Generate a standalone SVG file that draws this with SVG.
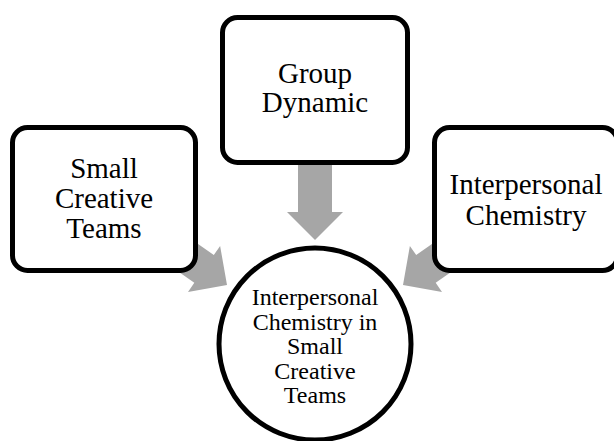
<svg xmlns="http://www.w3.org/2000/svg" width="614" height="441" viewBox="0 0 614 441">
  <defs>
    <style>
      .box { fill: #ffffff; stroke: #000000; stroke-width: 5; }
      .arrow { fill: #a6a6a6; stroke: none; }
      .lbl { font-family: "Liberation Serif", "Times New Roman", serif; font-size: 29px; fill: #000000; text-anchor: middle; }
      .lbl-sm { font-family: "Liberation Serif", "Times New Roman", serif; font-size: 24px; fill: #000000; text-anchor: middle; }
    </style>
    <!-- block arrow pointing along +x, tip at the origin -->
    <path id="blockArrow" d="M0,0 L-28,-28 L-28,-17 L-80,-17 L-80,17 L-28,17 L-28,28 Z"/>
  </defs>

  <rect width="614" height="441" fill="#ffffff"/>

  <!-- connectors: block arrows toward the central circle -->
  <g id="connectors" class="arrow">
    <use href="#blockArrow" transform="translate(227,285) rotate(35)"/>
    <use href="#blockArrow" transform="translate(315,240) rotate(90)"/>
    <use href="#blockArrow" transform="translate(403,285) rotate(145)"/>
  </g>

  <g id="node-small-creative-teams">
    <rect class="box" x="12.5" y="127.5" width="183" height="143" rx="15"/>
    <text class="lbl" x="104" y="178">Small</text>
    <text class="lbl" x="104" y="208">Creative</text>
    <text class="lbl" x="104" y="238">Teams</text>
  </g>

  <g id="node-group-dynamic">
    <rect class="box" x="222.5" y="17.5" width="185" height="145" rx="15"/>
    <text class="lbl" x="315" y="83">Group</text>
    <text class="lbl" x="315" y="112">Dynamic</text>
  </g>

  <g id="node-interpersonal-chemistry">
    <rect class="box" x="434.5" y="127.5" width="183" height="143" rx="15"/>
    <text class="lbl" x="526" y="194">Interpersonal</text>
    <text class="lbl" x="526" y="225">Chemistry</text>
  </g>

  <g id="node-center">
    <circle class="box" cx="315" cy="344" r="96"/>
    <text class="lbl-sm" x="315" y="305">Interpersonal</text>
    <text class="lbl-sm" x="315" y="329.5">Chemistry in</text>
    <text class="lbl-sm" x="315" y="354">Small</text>
    <text class="lbl-sm" x="315" y="378.5">Creative</text>
    <text class="lbl-sm" x="315" y="403">Teams</text>
  </g>
</svg>
